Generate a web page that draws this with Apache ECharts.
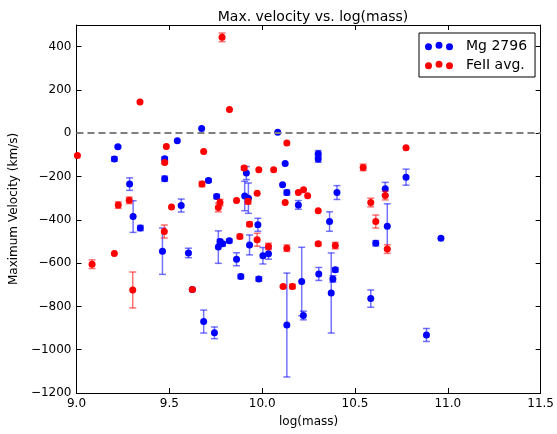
<!DOCTYPE html>
<html>
<head>
<meta charset="utf-8">
<script src="https://cdn.jsdelivr.net/npm/echarts@6/dist/echarts.min.js"></script>
<style>
  html, body { margin: 0; padding: 0; background: #fff; }
  #chart { width: 557px; height: 434px; }
</style>
</head>
<body>
<div id="chart"></div>
<script>
// Mg II 2796 outflow velocities: log stellar mass, max velocity, 1-sigma error
const mgX = [9.204, 9.223, 9.286, 9.305, 9.344, 9.463, 9.475, 9.475, 9.543, 9.564,
             9.603, 9.624, 9.674, 9.685, 9.711, 9.743, 9.755, 9.764, 9.773, 9.787,
             9.823, 9.862, 9.885, 9.906, 9.915, 9.926, 9.932, 9.977, 9.982, 10.004,
             10.034, 10.084, 10.124, 10.110, 10.133, 10.133, 10.195, 10.213, 10.222, 10.302,
             10.302, 10.305, 10.363, 10.372, 10.381, 10.394, 10.403, 10.585, 10.612, 10.663,
             10.674, 10.775, 10.885, 10.963];
const mgY = [-119, -62, -235, -385, -438, -545, -118, -210, -35, -334,
             -553, -722, 22, -870, -218, -922, -292, -526, -500, -511,
             -497, -582, -662, -290, -184, -300, -516, -423, -673, -566,
             -557, 4, -140, -238, -274, -886, -331, -685, -842, -95,
             -119, -650, -408, -738, -673, -631, -274, -764, -508, -257,
             -430, -203, -932, -485];
const mgErr = [10, 5, 29, 73, 12, 107, 8, 12, 0, 30,
               22, 0, 0, 53, 8, 27, 10, 75, 10, 10,
               8, 30, 10, 68, 30, 70, 46, 30, 10, 38,
               25, 0, 0, 0, 12, 240, 20, 158, 20, 15,
               15, 30, 45, 185, 15, 10, 32, 40, 12, 30,
               104, 37, 30, 0];

// Fe II averaged outflow velocities
const feX = [9.005, 9.084, 9.204, 9.225, 9.284, 9.303, 9.342, 9.475, 9.473, 9.484,
             9.512, 9.624, 9.676, 9.685, 9.764, 9.773, 9.784, 9.824, 9.862, 9.880,
             9.903, 9.924, 9.932, 9.973, 9.973, 9.982, 10.034, 10.062, 10.113, 10.124,
             10.133, 10.133, 10.163, 10.195, 10.223, 10.245, 10.302, 10.302, 10.394, 10.544,
             10.585, 10.612, 10.663, 10.674, 10.775];
const feY = [-103, -605, -556, -332, -310, -724, 144, -135, -454, -61,
             -341, -722, -235, -84, -343, -320, 443, 110, -311, -477,
             -161, -315, -420, -277, -492, -169, -523, -169, -708, -320,
             -531, -45, -708, -274, -261, -289, -358, -511, -519, -158,
             -320, -408, -288, -535, -67];
const feErr = [0, 20, 0, 15, 15, 83, 0, 5, 30, 0,
               0, 5, 12, 0, 20, 15, 20, 0, 0, 10,
               8, 12, 10, 0, 30, 0, 15, 0, 5, 0,
               15, 0, 10, 0, 0, 0, 0, 8, 15, 15,
               20, 30, 20, 20, 0];

// Axis ticks
const xTicks = [9.0, 9.5, 10.0, 10.5, 11.0, 11.5];
const yTicks = [-1200, -1000, -800, -600, -400, -200, 0, 200, 400];

const seriesNames = ['Mg 2796', 'FeII avg.'];

const zip = (xs, ys, es) => xs.map((x, i) => es ? [x, ys[i], es[i]] : [x, ys[i]]);

// vertical error bar with short caps
function errorBarRenderer(color) {
  return function (params, api) {
    const x = api.value(0), y = api.value(1), e = api.value(2);
    if (!e) return null;
    const top = api.coord([x, y + e]);
    const bot = api.coord([x, y - e]);
    const h = 3.5;
    const style = { stroke: color, lineWidth: 1.5 };
    return {
      type: 'group',
      children: [
        { type: 'line', shape: { x1: top[0], y1: top[1], x2: bot[0], y2: bot[1] }, style },
        { type: 'line', shape: { x1: top[0] - h, y1: top[1], x2: top[0] + h, y2: top[1] }, style },
        { type: 'line', shape: { x1: bot[0] - h, y1: bot[1], x2: bot[0] + h, y2: bot[1] }, style }
      ]
    };
  };
}

const font = 'DejaVu Sans';
const threeDots = 'path://M0,5.2a3.5,3.5 0 1,0 7,0a3.5,3.5 0 1,0 -7,0' +
                  'M10.5,3.5a3.5,3.5 0 1,0 7,0a3.5,3.5 0 1,0 -7,0' +
                  'M21,5.2a3.5,3.5 0 1,0 7,0a3.5,3.5 0 1,0 -7,0';

const tickStyle = { inside: true, length: 5, lineStyle: { color: '#000', width: 1 } };
const lineStyleAxis = { show: true, onZero: false, lineStyle: { color: '#000', width: 1 } };

const chart = echarts.init(document.getElementById('chart'), null, { renderer: 'canvas' });
chart.setOption({
  animation: false,
  backgroundColor: '#fff',
  title: {
    text: 'Max. velocity vs. log(mass)',
    left: 308, top: 5, textAlign: 'center',
    textStyle: { fontFamily: font, fontSize: 14, fontWeight: 'normal', color: '#000' }
  },
  grid: { left: 73, right: 14, top: 25, bottom: 41 },
  legend: {
    orient: 'vertical',
    left: 419, top: 33,
    padding: [6, 8, 5, 6],
    itemGap: 5,
    itemWidth: 28, itemHeight: 9,
    icon: threeDots,
    backgroundColor: '#fff',
    borderColor: '#000', borderWidth: 1, borderRadius: 0,
    textStyle: { fontFamily: font, fontSize: 14, color: '#000', padding: [0, 0, 0, 8] },
    data: seriesNames
  },
  xAxis: [{
    type: 'value', min: 9, max: 11.5, interval: 0.5,
    name: 'log(mass)', nameLocation: 'middle', nameGap: 23,
    nameTextStyle: { fontFamily: font, fontSize: 12, color: '#000' },
    axisLine: lineStyleAxis, axisTick: tickStyle, splitLine: { show: false },
    axisLabel: { fontFamily: font, fontSize: 12, color: '#000', margin: 5,
                 formatter: v => xTicks.some(t => Math.abs(t - v) < 1e-9) ? v.toFixed(1) : '' }
  }, {
    type: 'value', min: 9, max: 11.5, interval: 0.5, position: 'top',
    axisLine: lineStyleAxis, axisTick: tickStyle, splitLine: { show: false },
    axisLabel: { show: false }
  }],
  yAxis: [{
    type: 'value', min: -1200, max: 500, interval: 200,
    name: 'Maximum Velocity (km/s)', nameLocation: 'middle', nameGap: 45,
    nameTextStyle: { fontFamily: font, fontSize: 12, color: '#000' },
    axisLine: lineStyleAxis, axisTick: tickStyle, splitLine: { show: false },
    axisLabel: { fontFamily: font, fontSize: 12, color: '#000', margin: 5, showMaxLabel: false,
                 formatter: v => yTicks.includes(v) ? String(v).replace('-', '\u2212') : '' }
  }, {
    type: 'value', min: -1200, max: 500, interval: 200, position: 'right',
    axisLine: lineStyleAxis, axisTick: tickStyle, splitLine: { show: false },
    axisLabel: { show: false }
  }],
  series: [
    {
      type: 'custom', name: 'mg-err', z: 1, silent: true,
      renderItem: errorBarRenderer('rgba(0,0,255,0.55)'),
      encode: { x: 0, y: 1 },
      data: zip(mgX, mgY, mgErr)
    },
    {
      type: 'scatter', name: seriesNames[0], z: 2,
      symbol: 'circle', symbolSize: 7,
      itemStyle: { color: '#0000ff', opacity: 1 },
      data: zip(mgX, mgY),
      markLine: {
        silent: true, symbol: 'none', label: { show: false },
        lineStyle: { color: '#7f7f7f', width: 2, type: [7, 4] },
        data: [{ yAxis: 0 }]
      }
    },
    {
      type: 'custom', name: 'fe-err', z: 3, silent: true,
      renderItem: errorBarRenderer('rgba(255,0,0,0.55)'),
      encode: { x: 0, y: 1 },
      data: zip(feX, feY, feErr)
    },
    {
      type: 'scatter', name: seriesNames[1], z: 4,
      symbol: 'circle', symbolSize: 7,
      itemStyle: { color: '#ff0000', opacity: 1 },
      data: zip(feX, feY)
    }
  ]
});
</script>
</body>
</html>
